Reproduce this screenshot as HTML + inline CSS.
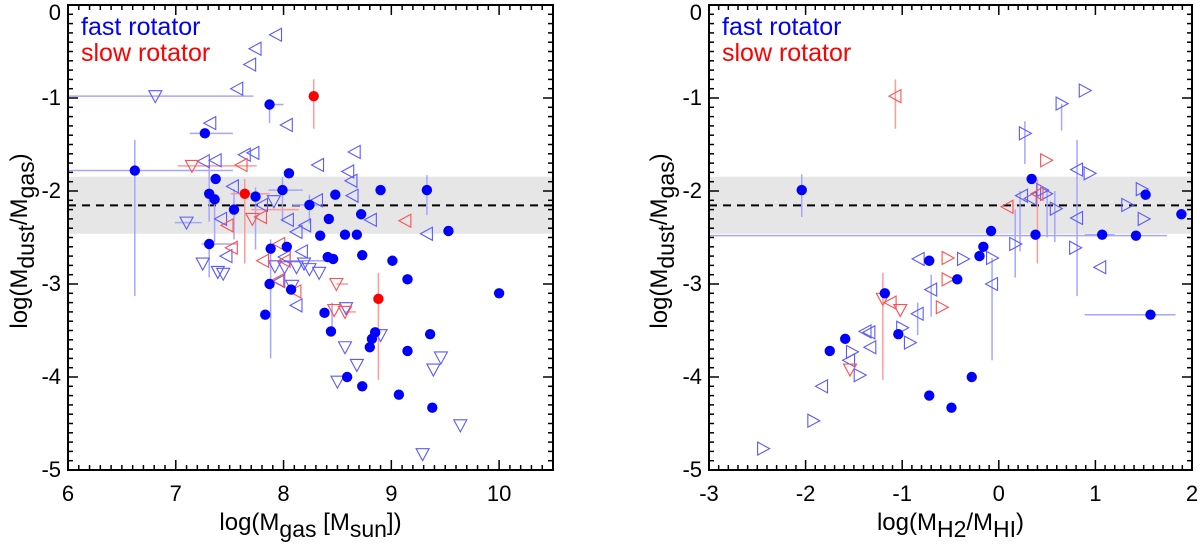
<!DOCTYPE html>
<html><head><meta charset="utf-8">
<style>
html,body{margin:0;padding:0;background:#fff;}
svg{display:block;font-family:"Liberation Sans",Arial,sans-serif;}
</style></head>
<body>
<svg id="chart" width="1200" height="545" viewBox="0 0 1200 545" xmlns="http://www.w3.org/2000/svg"></svg>
<script>
// ---------- LEFT PANEL DATA (x = log Mgas, y = log Mdust/Mgas) ----------
const leftFastDetX = [6.62,7.27,7.87,7.31,7.36,7.37,7.31,7.54,7.74,7.99,8.05,7.88,8.03,7.87,8.07,7.83,8.24,8.48,8.42,8.34,8.57,8.68,8.72,8.41,8.46,8.73,8.90,9.01,9.33,9.53,9.15,10.0,8.38,8.44,8.85,8.82,8.80,9.15,9.36,8.59,8.73,9.07,9.38];
const leftFastDetY = [-1.78,-1.38,-1.07,-2.03,-2.09,-1.87,-2.57,-2.20,-2.06,-1.99,-1.81,-2.62,-2.60,-3.0,-3.06,-3.33,-2.15,-2.04,-2.30,-2.48,-2.47,-2.47,-2.25,-2.71,-2.73,-2.69,-1.99,-2.75,-1.99,-2.43,-2.95,-3.10,-3.31,-3.51,-3.52,-3.59,-3.68,-3.72,-3.54,-4.0,-4.10,-4.19,-4.33];
const leftSlowDetX = [8.28,7.64,8.88];
const leftSlowDetY = [-0.98,-2.03,-3.16];
const leftFastDownX = [6.81,7.10,7.25,7.39,7.44,7.91,8.33,8.57,8.68,8.50,9.46,9.39,9.64,9.29,8.90,8.58,7.92,8.01,8.12,8.19,8.24,8.08];
const leftFastDownY = [-0.98,-2.34,-2.78,-2.87,-2.89,-2.11,-2.88,-3.68,-3.87,-4.05,-3.79,-3.92,-4.52,-4.83,-3.55,-3.26,-2.81,-2.82,-2.82,-2.78,-2.84,-3.02];
const leftFastLeftX = [7.93,7.74,7.69,7.57,8.03,7.32,7.26,7.37,7.64,7.72,8.32,8.66,8.60,8.63,8.64,8.81,9.33,8.31,7.53,7.42,7.47,7.80,8.04,8.12,8.20,8.17,8.01,7.96,8.12];
const leftFastLeftY = [-0.32,-0.47,-0.64,-0.90,-1.29,-1.27,-1.68,-1.67,-1.61,-1.59,-1.72,-1.58,-1.79,-1.89,-2.05,-2.31,-2.46,-2.10,-1.95,-2.30,-2.70,-2.15,-2.31,-2.44,-2.37,-2.65,-2.71,-2.97,-3.23];
const leftSlowDownX = [7.15,7.71,8.49,8.47,8.57];
const leftSlowDownY = [-1.73,-2.30,-3.0,-3.28,-3.30];
const leftSlowLeftX = [7.61,7.48,7.52,7.79,7.81,7.96,7.95,8.11,9.13,8.01];
const leftSlowLeftY = [-1.72,-2.37,-2.61,-2.28,-2.75,-2.57,-2.96,-3.08,-2.32,-2.75];
// error bars: [x, y, xlo, xhi, ylo, yhi]
const leftBlueErr = [[6.62,-1.78,6.0,7.53,-3.13,-1.45],[7.27,-1.38,7.13,7.53,-1.38,-1.38],[7.87,-1.07,7.87,8.0,-1.27,-1.07],[7.31,-2.03,7.31,7.31,-2.33,-1.72],[7.36,-2.09,7.36,7.36,-2.55,-2.09],[7.31,-2.57,7.24,7.58,-2.93,-2.57],[7.54,-2.20,7.54,7.54,-2.52,-1.98],[7.74,-2.06,7.74,7.74,-2.63,-1.96],[7.99,-1.99,7.86,8.18,-2.33,-1.85],[7.88,-2.62,7.88,7.88,-3.80,-2.52],[8.24,-2.15,8.08,8.35,-2.35,-2.04],[9.33,-1.99,9.33,9.33,-2.26,-1.83],[6.81,-0.98,6.0,7.72,-0.98,-0.98],[7.10,-2.34,6.99,7.24,-2.34,-2.34],[8.45,-3.31,8.45,8.45,-3.55,-3.2],[8.38,-2.75,8.0,8.48,-2.75,-2.75]];
const leftRedErr = [[8.28,-0.98,8.28,8.28,-1.33,-0.80],[7.64,-2.03,7.51,7.87,-2.78,-1.87],[8.88,-3.16,8.88,8.88,-4.03,-2.88],[7.15,-1.73,7.02,7.75,-1.73,-1.73],[8.57,-3.30,8.57,8.67,-3.30,-3.30],[8.49,-3.0,8.49,8.6,-3.0,-3.0],[7.9,-2.2,7.7,8.14,-2.2,-2.2]];

// ---------- RIGHT PANEL DATA (x = log MH2/MHI) ----------
const rightFastDetX = [-2.04,-1.75,-1.59,-1.18,-1.04,-0.72,-0.72,-0.49,-0.43,-0.28,-0.20,-0.16,-0.08,0.34,0.38,1.07,1.42,1.52,1.89,1.57];
const rightFastDetY = [-1.99,-3.72,-3.59,-3.10,-3.54,-2.75,-4.20,-4.33,-2.95,-4.0,-2.70,-2.60,-2.43,-1.87,-2.47,-2.47,-2.48,-2.04,-2.25,-3.33];
const rightFastRightX = [-2.44,-1.92,-1.52,-1.44,-1.0,-0.92,-0.37,-0.07,0.17,0.27,0.45,0.49,0.59,0.65,0.89,0.94,0.79,1.33,1.48,1.50];
const rightFastRightY = [-4.77,-4.47,-3.73,-3.98,-3.47,-3.63,-2.73,-2.72,-2.57,-1.38,-1.99,-2.03,-2.19,-1.06,-0.92,-1.81,-2.61,-2.15,-1.98,-2.30];
const rightFastLeftX = [-1.83,-1.55,-1.38,-1.34,-1.33,-0.84,-0.83,-0.70,-0.07,0.24,0.33,0.81,0.81,1.05];
const rightFastLeftY = [-4.10,-3.82,-3.51,-3.52,-3.68,-3.32,-2.73,-3.06,-3.0,-2.05,-2.08,-1.77,-2.29,-2.82];
const rightSlowLeftX = [-1.07,0.09,0.40,-1.12];
const rightSlowLeftY = [-0.98,-2.17,-2.03,-3.2];
const rightSlowRightX = [0.49,-0.53,-0.53,-0.59];
const rightSlowRightY = [-1.67,-2.72,-2.95,-3.25];
const rightSlowDownX = [-1.20,-1.02,-1.54];
const rightSlowDownY = [-3.16,-3.28,-3.92];
const rightBlueErr = [[-2.04,-1.99,-2.04,-2.04,-2.28,-1.82],[-0.07,-3.0,-0.07,-0.07,-3.82,-2.72],[0.27,-1.38,0.27,0.27,-1.71,-1.25],[0.65,-1.06,0.65,0.65,-1.35,-1.06],[0.81,-2.29,0.81,0.81,-3.13,-1.45],[1.07,-2.47,0.89,1.2,-2.47,-2.47],[1.42,-2.48,-3.0,1.74,-2.48,-2.48],[1.57,-3.33,0.89,1.83,-3.33,-3.33],[0.17,-2.57,0.17,0.17,-2.93,-2.2],[0.22,-2.3,0.22,0.22,-2.65,-2.0],[0.5,-2.2,0.5,0.5,-2.5,-1.98],[0.58,-2.3,0.58,0.58,-2.55,-2.0],[-0.70,-3.06,-0.70,-0.70,-3.35,-2.9],[-0.84,-3.32,-0.84,-0.84,-3.55,-3.2]];
const rightRedErr = [[-1.07,-0.98,-1.07,-1.07,-1.33,-0.80],[0.40,-2.03,0.40,0.40,-2.78,-1.87],[-1.20,-3.16,-1.20,-1.20,-4.03,-2.88]];

const xTicksLeft = ["6","7","8","9","10"];
const xTicksRight = ["-3","-2","-1","0","1","2"];
const yTicks = ["0","-1","-2","-3","-4","-5"];
const bandLo = -2.46, bandHi = -1.846, meanRatio = -2.155;

const svg = document.getElementById('chart');
const NS = 'http://www.w3.org/2000/svg';
function mk(tag, attrs, parent){const e=document.createElementNS(NS,tag);for(const k in attrs)e.setAttribute(k,attrs[k]);(parent||svg).appendChild(e);return e;}

const BLUE='#0000ff', BLUE_O='#5a5aff', BLUE_E='#a6a6ff', RED='#ff0000', RED_O='#ff5050', RED_E='#ff9a9a';

function panel(cfg){
  const g = mk('g',{});
  
  
  const L=cfg.left,R=cfg.right,T=5,B=470;
  const X=v=>L+(v-cfg.xmin)/(cfg.xmax-cfg.xmin)*(R-L);
  const Y=v=>T+(0-v)/5*(B-T);
  const band=mk('rect',{x:L,y:Y(bandHi),width:R-L,height:Y(bandLo)-Y(bandHi),fill:'#e6e6e6'},g);
  
  
  const dash=mk('line',{x1:L,x2:R,y1:Y(meanRatio),y2:Y(meanRatio),stroke:'#000','stroke-width':2,'stroke-dasharray':'8,6'},g);
  
  
  function errs(list,col){list.forEach(d=>{
    if(d[2]!==d[3]){const l=mk('line',{x1:X(d[2]),x2:X(d[3]),y1:Y(d[1]),y2:Y(d[1]),stroke:col,'stroke-width':1.5},g);
      
      }
    if(d[4]!==d[5]){const l=mk('line',{x1:X(d[0]),x2:X(d[0]),y1:Y(d[4]),y2:Y(d[5]),stroke:col,'stroke-width':1.5},g);
      
      }
  });}
  errs(cfg.blueErr,BLUE_E); errs(cfg.redErr,RED_E);
  function tri(xs,ys,dir,col){xs.forEach((xv,i)=>{
    const cx=X(xv),cy=Y(ys[i]);let p;
    if(dir==='down')p=[[cx-6.5,cy-5.5],[cx+6.5,cy-5.5],[cx,cy+6.5]];
    else if(dir==='left')p=[[cx+5.5,cy-6.5],[cx+5.5,cy+6.5],[cx-6.5,cy]];
    else p=[[cx-5.5,cy-6.5],[cx-5.5,cy+6.5],[cx+6.5,cy]];
    const t=mk('polygon',{points:p.map(q=>q.join(',')).join(' '),fill:'none',stroke:col,'stroke-width':1.1},g);
    
    
  });}
  cfg.tris.forEach(t=>tri(t[0],t[1],t[2],t[3]));
  function dots(xs,ys,col){xs.forEach((xv,i)=>{
    const c=mk('circle',{cx:X(xv),cy:Y(ys[i]),r:5.2,fill:col},g);
    
    
  });}
  dots(cfg.fastX,cfg.fastY,BLUE); dots(cfg.slowX,cfg.slowY,RED);
  const fr=mk('rect',{x:L,y:T,width:R-L,height:B-T,fill:'none',stroke:'#000','stroke-width':2},g);
  
  
  for(let v=Math.round(cfg.xmin*10);v<=Math.round(cfg.xmax*10);v++){
    const maj=v%10===0, len=maj?10:5, px=X(v/10);
    mk('line',{x1:px,x2:px,y1:B,y2:B-len,stroke:'#000','stroke-width':1.5},g);
    mk('line',{x1:px,x2:px,y1:T,y2:T+len,stroke:'#000','stroke-width':1.5},g);
  }
  cfg.xt.forEach(s=>{const t=mk('text',{x:X(parseFloat(s)),y:501,'text-anchor':'middle','font-size':22},g);t.textContent=s;
    
    });
  for(let v=0;v>=-50;v--){
    const maj=v%10===0,len=maj?10:5,py=Y(v/10);
    mk('line',{x1:L,x2:L+len,y1:py,y2:py,stroke:'#000','stroke-width':1.5},g);
    mk('line',{x1:R,x2:R-len,y1:py,y2:py,stroke:'#000','stroke-width':1.5},g);
  }
  yTicks.forEach(s=>{let yy=Y(parseFloat(s))+7; if(s==='0')yy=20;
    const t=mk('text',{x:L-7,y:yy,'text-anchor':'end','font-size':22},g);t.textContent=s;
    
    });
  const l1=mk('text',{x:L+13,y:35,'font-size':25,fill:BLUE},g);l1.textContent='fast rotator';
  
  
  const l2=mk('text',{x:L+13,y:61,'font-size':25,fill:RED},g);l2.textContent='slow rotator';
  
  
  const yt=mk('text',{transform:`translate(${cfg.ytx},241) rotate(-90)`,'text-anchor':'middle','font-size':24},g);
  yt.innerHTML='log(M<tspan dy="7" font-size="23">dust</tspan><tspan dy="-7">/M</tspan><tspan dy="7" font-size="23">gas</tspan><tspan dy="-7">)</tspan>';
  
  
  const xt=mk('text',{x:(L+R)/2,y:530,'text-anchor':'middle','font-size':24},g);
  xt.innerHTML=cfg.xtitle;
  
  
}

panel({name:'left-panel',left:68,right:553,xmin:6,xmax:10.5,xt:xTicksLeft,ytx:27,
  blueErr:leftBlueErr,redErr:leftRedErr,
  tris:[[leftFastDownX,leftFastDownY,'down',BLUE_O],[leftFastLeftX,leftFastLeftY,'left',BLUE_O],[leftSlowDownX,leftSlowDownY,'down',RED_O],[leftSlowLeftX,leftSlowLeftY,'left',RED_O]],
  fastX:leftFastDetX,fastY:leftFastDetY,slowX:leftSlowDetX,slowY:leftSlowDetY,
  xtitle:'log(M<tspan dy="7" font-size="23">gas</tspan><tspan dy="-7"> [M</tspan><tspan dy="7" font-size="23">sun</tspan><tspan dy="-7">])</tspan>'});
panel({name:'right-panel',left:709,right:1192,xmin:-3,xmax:2,xt:xTicksRight,ytx:667,
  blueErr:rightBlueErr,redErr:rightRedErr,
  tris:[[rightFastRightX,rightFastRightY,'right',BLUE_O],[rightFastLeftX,rightFastLeftY,'left',BLUE_O],[rightSlowLeftX,rightSlowLeftY,'left',RED_O],[rightSlowRightX,rightSlowRightY,'right',RED_O],[rightSlowDownX,rightSlowDownY,'down',RED_O]],
  fastX:rightFastDetX,fastY:rightFastDetY,slowX:[],slowY:[],
  xtitle:'log(M<tspan dy="7" font-size="23">H2</tspan><tspan dy="-7">/M</tspan><tspan dy="7" font-size="23">HI</tspan><tspan dy="-7">)</tspan>'});
</script>
</body></html>
